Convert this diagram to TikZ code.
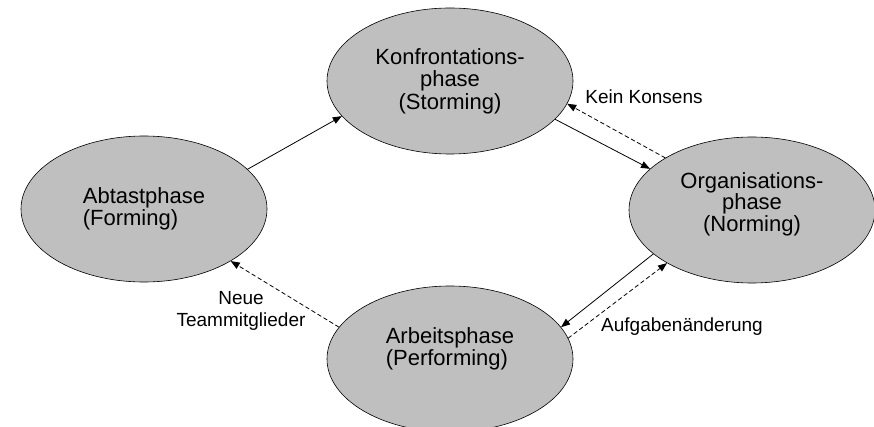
\documentclass[tikz,border=0pt]{standalone}
\usepackage{fontspec}
\setmainfont{Liberation Sans}
\usetikzlibrary{arrows.meta, shapes.geometric}

\begin{document}
\begin{tikzpicture}[x=1pt, y=-1pt, >={Triangle[length=9pt,width=7pt]},
	line cap=round, line join=round,
	phase/.style={ellipse, draw=black, line width=0.6pt, fill=gray!50,
		minimum width=246pt, minimum height=146pt, inner sep=0pt,
		font=\fontsize{22}{22.5}\selectfont},
	flow/.style={->, line width=0.8pt},
	back/.style={->, line width=0.8pt, dash pattern=on 4pt off 3pt},
	note/.style={font=\fontsize{19}{22}\selectfont, align=center}]

\useasboundingbox (0,0) rectangle (874,427);

% ================= phases =================
\node[phase, align=left]   (forming)    at (144,209) {Abtastphase\\(Forming)};
\node[phase, align=center] (storming)   at (450,81)  {Konfrontations-\\phase\\(Storming)};
\node[phase, align=center, font=\fontsize{22}{20}\selectfont, text depth=16.6pt]
	(norming) at (752,210) {Organisations-\\phase\\(Norming)};
\node[phase, align=left, text depth=24.6pt]
	(performing) at (450,359) {Arbeitsphase\\(Performing)};

% ================= forward cycle =================
\draw[flow] (forming.21)    -- (storming.198);
\draw[flow] (storming.-20)  -- (norming.158.6);
\draw[flow] (norming.204.7) -- (performing.16.9);

% ================= way back (dashed) =================
\draw[back] (norming.149.7)  -- (storming.-11.5);
\draw[back] (performing.10)  -- (norming.212.6);
\draw[back] (performing.164) -- (forming.-31.2);

% labels
\node[note] (konsens) at (644,97)  {Kein Konsens};
\node[note] (aufgabe) at (682,327) {Aufgabenänderung};
\node[note] (neue)    at (241,311) {Neue\\Teammitglieder};

\end{tikzpicture}
\end{document}
